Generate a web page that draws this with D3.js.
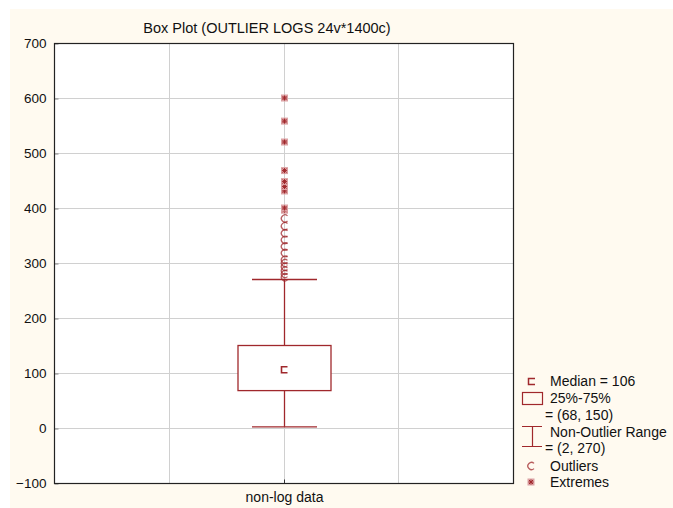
<!DOCTYPE html>
<html>
<head>
<meta charset="utf-8">
<script src="https://cdn.jsdelivr.net/npm/d3@7"></script>
<style>
  body { margin: 0; background: #fff; }
  text { font-family: "Liberation Sans", Arial, sans-serif; }
</style>
</head>
<body>
<div id="chart"></div>
<script>
// Werte
var categories = ["non-log data"];
var medians = [106];
var boxLow = [68], boxHigh = [150];
var whiskLow = [2], whiskHigh = [270];
var outliers = [274, 280, 286, 293, 300, 306, 318, 330, 342, 354, 367, 381];
var extremes = [396, 400, 431, 439, 448, 468, 520, 558, 600];
var yTicks = [-100, 0, 100, 200, 300, 400, 500, 600, 700];

var width = 673, height = 508;
var dark = "#a0282c";
var svg = d3.select("#chart").append("svg")
    .attr("width", width).attr("height", height);

// cremefarbener Hintergrund
svg.append("rect").attr("x", 10).attr("y", 9)
    .attr("width", width - 10).attr("height", height - 9)
    .attr("fill", "#fffaf0");

var pLeft = 54, pRight = 513, pTop = 43, pBottom = 483;
var y = d3.scaleLinear().domain([-100, 700]).range([pBottom, pTop]);
// Kategorie in der Mitte, Gitter in Vierteln
var x = d3.scaleLinear().domain([0, 4]).range([pLeft, pRight]);
var catX = d3.scalePoint().domain(categories).range([x(2), x(2)]);

svg.append("rect").attr("x", pLeft).attr("y", pTop)
    .attr("width", pRight - pLeft).attr("height", pBottom - pTop)
    .attr("fill", "#fff");

// Gitterlinien
svg.append("g").selectAll("line").data(yTicks.slice(1, -1)).enter().append("line")
    .attr("x1", pLeft).attr("x2", pRight)
    .attr("y1", d => Math.round(y(d)) + 0.5).attr("y2", d => Math.round(y(d)) + 0.5)
    .attr("stroke", "#d0d0d0");
svg.append("g").selectAll("line").data([1, 2, 3]).enter().append("line")
    .attr("x1", d => Math.round(x(d)) + 0.5).attr("x2", d => Math.round(x(d)) + 0.5)
    .attr("y1", pTop).attr("y2", pBottom)
    .attr("stroke", "#d0d0d0");

// Achse links
var yAxis = d3.axisLeft(y).tickValues(yTicks).tickSize(-4).tickPadding(8);
var ga = svg.append("g").attr("transform", "translate(" + (pLeft + 0.5) + ",0.5)").call(yAxis);
ga.select(".domain").remove();
ga.selectAll("line").attr("stroke", "#888");
ga.selectAll("text").attr("font-size", 13.5).attr("fill", "#111");

// Achse unten
var xAxis = d3.axisBottom(catX).tickSize(-4).tickPadding(9);
var gx = svg.append("g").attr("transform", "translate(0.5," + (pBottom + 0.5) + ")").call(xAxis);
gx.select(".domain").remove();
gx.selectAll("line").attr("stroke", "#333");
gx.selectAll("text").attr("font-size", 14).attr("fill", "#111");

// Rahmen
svg.append("rect").attr("x", pLeft + 0.5).attr("y", pTop + 0.5)
    .attr("width", pRight - pLeft).attr("height", pBottom - pTop)
    .attr("fill", "none").attr("stroke", "#222").attr("stroke-width", 1.2);

// Titel
svg.append("text").attr("x", 267).attr("y", 33).attr("text-anchor", "middle")
    .attr("font-size", 14.5).attr("fill", "#111")
    .text("Box Plot (OUTLIER LOGS 24v*1400c)");

// Boxplot
var boxW = 93, capW = 65;
var cShape = "M3,-2.6 A3.6,3.6 0 1 0 3,2.6";
categories.forEach(function(c, i) {
    var cx = Math.round(catX(c)) + 0.5;
    var g = svg.append("g").attr("stroke", dark).attr("fill", "none").attr("stroke-width", 1.3);
    g.append("line").attr("x1", cx).attr("x2", cx)
        .attr("y1", y(whiskLow[i])).attr("y2", y(boxLow[i]));
    g.append("line").attr("x1", cx).attr("x2", cx)
        .attr("y1", y(boxHigh[i])).attr("y2", y(whiskHigh[i]));
    [whiskLow[i], whiskHigh[i]].forEach(function(v) {
        g.append("line").attr("x1", cx - capW / 2).attr("x2", cx + capW / 2)
            .attr("y1", y(v)).attr("y2", y(v));
    });
    g.append("rect").attr("x", cx - boxW / 2).attr("y", y(boxHigh[i]))
        .attr("width", boxW).attr("height", y(boxLow[i]) - y(boxHigh[i]))
        .attr("fill", "#fff");
    g.append("path")
        .attr("d", "M" + (cx + 3) + "," + (y(medians[i]) - 3) + "H" + (cx - 3) +
            "V" + (y(medians[i]) + 3) + "H" + (cx + 3))
        .attr("stroke-width", 1.6);

    // Ausreisser als "C"
    svg.append("g").selectAll("path").data(outliers).enter().append("path")
        .attr("d", cShape)
        .attr("transform", d => "translate(" + cx + "," + y(d) + ")")
        .attr("fill", "none").attr("stroke", dark).attr("stroke-opacity", 0.75)
        .attr("stroke-width", 1.3);

    // Extremwerte
    var ex = svg.append("g").selectAll("g").data(extremes).enter().append("g")
        .attr("transform", d => "translate(" + cx + "," + y(d) + ")");
    ex.append("rect").attr("x", -3.5).attr("y", -3.5).attr("width", 7).attr("height", 7)
        .attr("fill", "#dca2a4");
    ex.append("path").attr("d", "M-2.5,0H2.5M0,-2.5V2.5M-2,-2L2,2M-2,2L2,-2")
        .attr("stroke", dark).attr("stroke-width", 1);
});

// Legende
var lg = svg.append("g").attr("font-size", 14).attr("fill", "#111");
var lx = 550;
lg.append("path").attr("d", "M535,378.5H528.5V384.5H535")
    .attr("fill", "none").attr("stroke", dark).attr("stroke-width", 1.5);
lg.append("text").attr("x", lx).attr("y", 386).text("Median = " + medians[0]);
lg.append("rect").attr("x", 522.5).attr("y", 392.5).attr("width", 20).attr("height", 12)
    .attr("fill", "none").attr("stroke", dark).attr("stroke-width", 1.2);
lg.append("text").attr("x", lx).attr("y", 403).text("25%-75%");
lg.append("text").attr("x", 545).attr("y", 420).text("= (" + boxLow[0] + ", " + boxHigh[0] + ")");
lg.append("path").attr("d", "M522,426.5H542M532.5,426V447M522,446.5H542")
    .attr("stroke", dark).attr("stroke-width", 1.2).attr("fill", "none");
lg.append("text").attr("x", lx).attr("y", 437).text("Non-Outlier Range");
lg.append("text").attr("x", 545).attr("y", 453).text("= (" + whiskLow[0] + ", " + whiskHigh[0] + ")");
lg.append("path").attr("d", cShape)
    .attr("transform", "translate(531,466)")
    .attr("fill", "none").attr("stroke", dark).attr("stroke-opacity", 0.75).attr("stroke-width", 1.3);
lg.append("text").attr("x", lx).attr("y", 471).text("Outliers");
var le = lg.append("g").attr("transform", "translate(531,482)");
le.append("rect").attr("x", -3.5).attr("y", -3.5).attr("width", 7).attr("height", 7).attr("fill", "#dca2a4");
le.append("path").attr("d", "M-2.5,0H2.5M0,-2.5V2.5M-2,-2L2,2M-2,2L2,-2").attr("stroke", dark);
lg.append("text").attr("x", lx).attr("y", 487).text("Extremes");
</script>
</body>
</html>
